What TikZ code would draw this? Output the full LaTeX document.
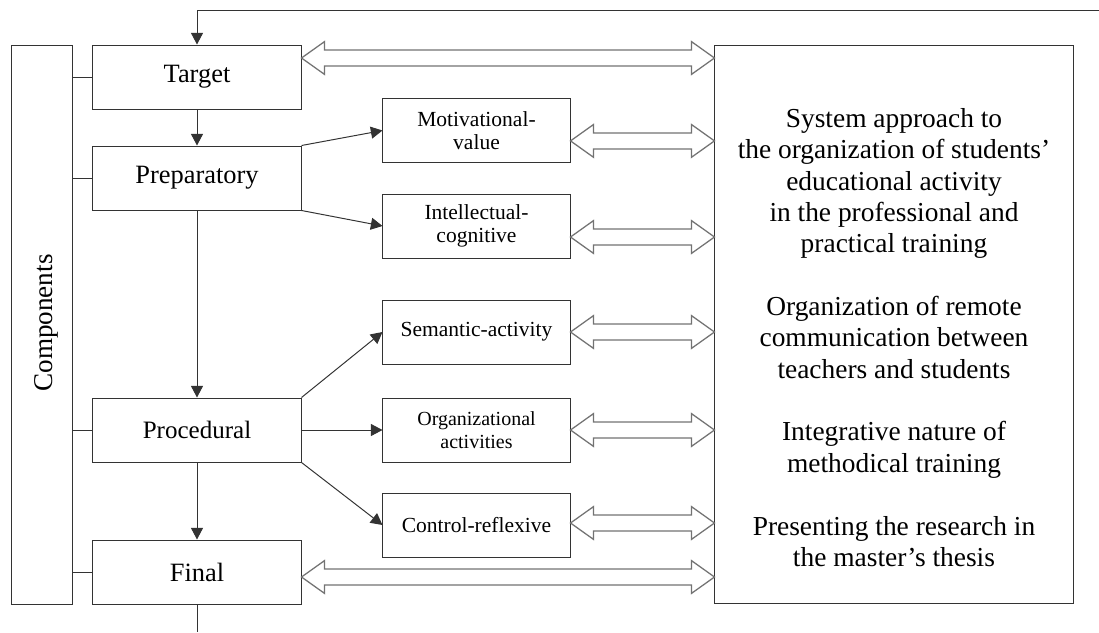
\documentclass[tikz,border=0pt]{standalone}
\usepackage{fontspec}
\setmainfont{Liberation Serif}
\usetikzlibrary{arrows.meta,calc}

\begin{document}
\begin{tikzpicture}[x=0.025cm, y=-0.025cm, line width=0.7pt,
    stage/.style={rectangle, draw=black!80, minimum width=52mm, minimum height=16mm, inner sep=0pt, font=\fontsize{18.8pt}{21pt}\selectfont},
    part/.style={rectangle, draw=black!80, minimum width=46.75mm, minimum height=16mm, inner sep=0pt, align=center, font=\fontsize{15.3pt}{16.5pt}\selectfont},
    flow/.style={draw=black!80, -{Triangle[length=2.9mm, width=3mm]}},
    twoway/.style={draw=black!55, line width=0.9pt, fill=white, to path={
        let \p1=(\tikztostart), \p2=(\tikztotarget) in
        (\p1) -- (\x1+5.75mm,\y1+4.1mm) -- (\x1+5.75mm,\y1+2mm) -- (\x2-5.75mm,\y1+2mm)
        -- (\x2-5.75mm,\y1+4.1mm) -- (\x2,\y1) -- (\x2-5.75mm,\y1-4.1mm) -- (\x2-5.75mm,\y1-2mm)
        -- (\x1+5.75mm,\y1-2mm) -- (\x1+5.75mm,\y1-4.1mm) -- cycle}}]
    \useasboundingbox (0,0) rectangle (1099,632);

    \node [rectangle, draw=black!80, minimum width=15.25mm, minimum height=139.5mm](comp) at (41.5,325) {};
    \node [rotate=90, font=\fontsize{19.3pt}{21pt}\selectfont](comptext) at (46,323) {Components};

    \node [stage](target) at (197,77) {Target};
    \node [stage](prep) at (197,178) {Preparatory};
    \node [stage, font=\fontsize{17.8pt}{20pt}\selectfont](proc) at (197,430) {Procedural};
    \node [stage](final) at (197,572) {Final};

    \node [part](mot) at (476.5,130.5) {Motivational-\\value};
    \node [part](intel) at (476.5,226) {Intellectual-\\cognitive};
    \node [part](sem) at (476.5,332) {Semantic-activity};
    \node [part, font=\fontsize{14.2pt}{16.5pt}\selectfont](org) at (476.5,430) {Organizational\\activities};
    \node [part](ctrl) at (476.5,525) {Control-reflexive};

    \node [rectangle, draw=black!80, minimum width=89.5mm, minimum height=139.25mm](sys) at (894,324.5) {};
    \node [align=center, font=\fontsize{19.5pt}{22.3pt}\selectfont](aims) at (894,337.5) {System approach to\\the organization of students’\\educational activity\\in the professional and\\practical training\\[22.3pt]
        Organization of remote\\communication between\\teachers and students\\[22.3pt]
        Integrative nature of\\methodical training\\[22.3pt]
        Presenting the research in\\the master’s thesis};

    \coordinate (fb) at (1099,10);
    \coordinate (out) at (197,632);

    % links to the components bar
    \draw [draw=black!80] (comp.east |- target) -- (target);
    \draw [draw=black!80] (comp.east |- prep) -- (prep);
    \draw [draw=black!80] (comp.east |- proc) -- (proc);
    \draw [draw=black!80] (comp.east |- final) -- (final);

    \draw [flow] (fb) -| (target.north);
    \draw [flow] (target) -- (prep);
    \draw [flow] (prep) -- (proc);
    \draw [flow] (proc) -- (final);
    \draw [draw=black!80] (final) -- (out);

    \draw [flow] (prep.north east) -- (mot.west);
    \draw [flow] (prep.south east) -- (intel.west);
    \draw [flow] (proc.north east) -- (sem.west);
    \draw [flow] (proc.east) -- (org.west);
    \draw [flow] (proc.south east) -- (ctrl.west);

    \draw [twoway] ([yshift=4.75mm]target.east) to (sys.west);
    \draw [twoway] ([yshift=-2.6mm]mot.east) to (sys.west);
    \draw [twoway] ([yshift=-2.75mm]intel.east) to (sys.west);
    \draw [twoway] (sem.east) to (sys.west);
    \draw [twoway] (org.east) to (sys.west);
    \draw [twoway] ([yshift=0.5mm]ctrl.east) to (sys.west);
    \draw [twoway] ([yshift=-1.25mm]final.east) to (sys.west);
\end{tikzpicture}
\end{document}
